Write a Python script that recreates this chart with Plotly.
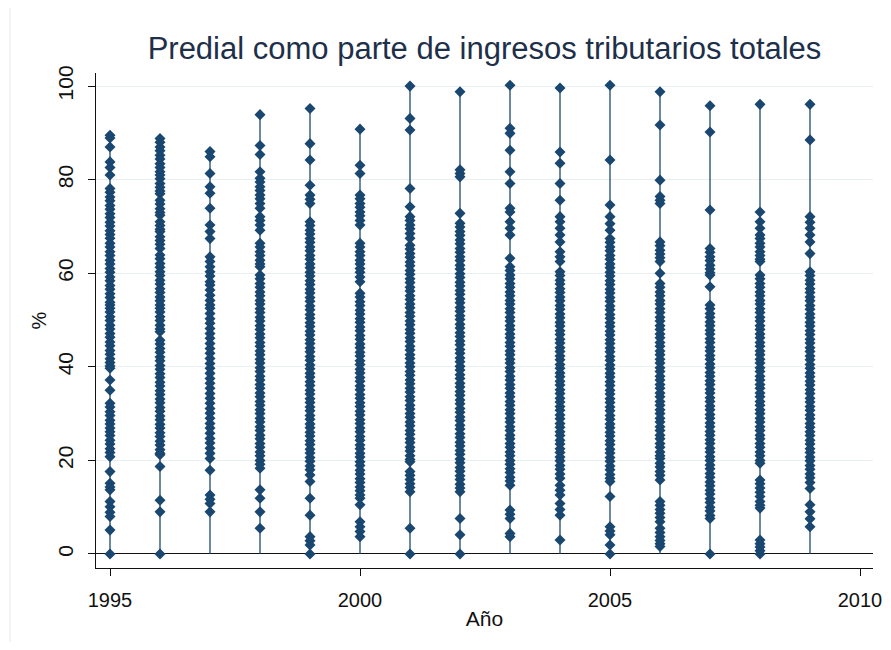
import plotly.graph_objects as go

years = [1995, 1996, 1997, 1998, 1999, 2000, 2001, 2002, 2003, 2004, 2005, 2006, 2007, 2008, 2009]

y1995 = [89.5, 88.9, 87.0, 83.8, 82.6, 81.0,
         78.1, 77.3, 76.3, 75.5, 74.5, 73.7, 72.7, 71.9, 70.9, 70.1, 69.1, 68.3, 67.5,
         66.4, 65.6, 64.6, 63.8, 62.8, 62.0, 61.0, 60.2, 59.2, 58.4, 57.4, 56.6, 55.6,
         54.8, 53.8, 53.2,
         52.5, 51.7, 50.7, 49.9, 48.9, 48.1, 47.1, 46.3, 45.3, 44.5, 43.5, 42.7, 41.7,
         40.9, 40.2, 39.7,
         37.2, 35.0,
         32.2, 31.4, 30.4, 29.6, 28.6, 27.8, 26.9,
         26.1, 25.3, 24.3, 23.5, 22.5, 21.7, 20.8,
         17.6, 15.1, 14.3, 13.7, 11.2, 10.1, 8.9, 8.0, 5.1, 0.0]
y1996 = [88.8, 88.0, 87.0, 86.2, 85.2, 84.4, 83.4, 82.6, 81.7,
         81.0, 80.2, 79.2, 78.4, 77.6, 77.0,
         75.6, 74.8, 73.8, 73.0, 72.4,
         71.0, 70.2, 69.4, 68.9,
         67.8, 67.0, 66.2, 65.3,
         63.9, 63.1, 62.1, 61.3, 60.3, 59.5, 58.5, 57.7, 56.7, 55.9, 54.9, 54.1, 53.2,
         52.5, 51.7, 50.7, 49.9, 48.9, 48.1, 47.5,
         45.7, 44.9, 43.9, 43.1, 42.1, 41.3, 40.3, 39.5, 38.5, 37.7, 36.7, 35.9, 34.9,
         34.1, 33.1, 32.3, 31.3, 30.5, 29.5, 28.7, 27.7, 26.9, 25.9, 25.1, 24.1, 23.3,
         22.3, 21.5, 21.2,
         18.7, 11.5, 9.0, 0.0]
y1997 = [86.0, 84.9, 81.3, 78.5, 77.1, 73.9, 70.3, 68.9, 67.4,
         63.5, 62.5, 61.4, 60.3, 59.4, 58.2,
         57.5, 56.4, 55.3, 54.2, 53.2,
         52.5, 51.4, 50.3, 49.3, 48.2, 47.1, 46.1, 45.0, 43.9, 42.9, 41.8, 40.7, 39.7,
         38.6, 37.5, 36.5, 35.4, 34.3, 33.3, 32.2, 31.1, 30.1, 29.0, 27.9, 26.9, 25.8,
         24.7, 23.7, 22.6, 21.5, 20.4,
         17.9, 12.6, 11.7, 10.8, 9.0]
y1998 = [93.9, 87.3, 85.4, 81.7,
         80.3, 79.5, 78.5, 77.7, 76.7, 75.9, 74.9, 73.9,
         72.1, 71.3, 70.3, 69.2,
         66.4, 65.6, 64.6, 63.8, 62.8, 62.0, 61.4,
         59.6, 58.8, 57.8, 57.0, 56.0, 55.2, 54.2, 53.4, 52.4, 51.6, 50.6, 49.8, 48.8,
         48.0, 47.0, 46.2, 45.2, 44.4, 43.4, 42.6, 41.6, 40.8, 39.8, 39.0, 38.0, 37.2,
         36.2, 35.4, 34.4, 33.6, 32.6, 31.8, 30.8, 30.0, 29.0, 28.2, 27.2, 26.4, 25.4,
         24.6, 23.6, 22.8, 21.8, 21.0, 20.0, 19.2, 18.3,
         13.7, 11.9, 9.0, 5.5]
y1999 = [95.2, 87.7, 84.2, 78.8, 76.7, 75.8, 74.9,
         71.0, 70.2, 69.2, 68.4, 67.4, 66.6, 65.6, 64.8, 63.8, 63.0, 62.0, 61.2, 60.2,
         59.4, 58.4, 57.6, 56.6, 55.8, 54.8, 54.0, 53.0, 52.2, 51.2, 50.4, 49.4, 48.6,
         47.6, 46.8, 45.8, 45.0, 44.0, 43.2, 42.2, 41.4, 40.4, 39.6, 38.6, 37.8, 36.8,
         36.0, 35.0, 34.2, 33.2, 32.4, 31.4, 30.6, 29.6, 28.8, 27.8, 27.0, 26.0, 25.2,
         24.2, 23.4, 22.4, 21.6, 20.6, 19.8, 18.8, 18.0, 16.9,
         15.5, 11.9, 8.3, 3.7, 2.8, 1.9, 0.0]
y2000 = [90.8, 83.1, 81.3,
         76.7, 75.9, 74.9, 74.1, 73.1, 72.3, 71.3, 70.3,
         66.4, 65.6, 64.6, 63.8, 62.8, 62.0, 61.0, 60.2, 59.2, 58.2,
         55.7, 54.9, 53.9, 53.1, 52.1, 51.3, 50.3, 49.5, 48.5, 47.7, 46.7, 45.9, 44.9,
         44.1, 43.1, 42.3, 41.3, 40.5, 39.5, 38.7, 37.7, 36.9, 35.9, 35.1, 34.1, 33.3,
         32.3, 31.5, 30.5, 29.7, 28.7, 27.9, 26.9, 26.1, 25.1, 24.3, 23.3, 22.5, 21.5,
         20.7, 19.7, 18.9, 17.9, 17.1, 16.1, 15.3, 14.3, 13.5, 12.6, 11.9,
         10.5, 6.9, 5.8, 4.8, 3.7]
y2001 = [100.0, 93.1, 90.6, 78.1, 74.2,
         72.1, 71.3, 70.3, 69.5, 68.5, 67.5,
         66.0, 65.2, 64.2, 63.4, 62.4, 61.6, 60.6, 59.8, 58.8, 58.0, 57.0, 56.2, 55.2,
         54.4, 53.4, 52.6, 51.6, 50.8, 49.8, 49.0, 48.0, 47.2, 46.2, 45.4, 44.4, 43.6,
         42.6, 41.8, 40.8, 40.0, 39.0, 38.2, 37.2, 36.4, 35.4, 34.6, 33.6, 32.8, 31.8,
         31.0, 30.0, 29.2, 28.2, 27.4, 26.4, 25.6, 24.6, 23.8, 22.8, 22.0, 21.0, 20.2,
         19.7,
         17.6, 16.8, 15.9, 15.0, 14.2, 13.3, 5.5, 0.0]
y2002 = [98.8, 82.1, 81.3, 80.6, 72.8,
         70.7, 69.9, 68.9, 68.1, 67.1, 66.3, 65.3, 64.5, 63.5, 62.7, 61.7, 60.9, 59.9,
         59.1, 58.1, 57.3, 56.3, 55.5, 54.5, 53.7, 52.7, 51.9, 50.9, 50.1, 49.1, 48.3,
         47.3, 46.5, 45.5, 44.7, 43.7, 42.9, 41.9, 41.1, 40.1, 39.3, 38.3, 37.5, 36.5,
         35.7, 34.7, 33.9, 32.9, 32.1, 31.1, 30.3, 29.3, 28.5, 27.5, 26.7, 25.7, 24.9,
         23.9, 23.1, 22.1, 21.3, 20.3, 19.5, 18.5, 17.7, 16.7, 15.9, 14.9, 14.1, 13.3,
         7.6, 4.1, 0.0]
y2003 = [100.2, 91.0, 89.9, 86.3, 81.7, 79.2, 73.9, 73.1,
         71.0, 69.6, 68.2, 63.2,
         61.4, 60.6, 59.6, 58.8, 57.8, 57.0, 56.0, 55.2, 54.2, 53.4, 52.4, 51.6, 50.6,
         49.8, 48.8, 48.0, 47.0, 46.2, 45.2, 44.4, 43.4, 42.6, 41.6, 40.8, 39.8, 39.0,
         38.0, 37.2, 36.2, 35.4, 34.4, 33.6, 32.6, 31.8, 30.8, 30.0, 29.0, 28.2, 27.2,
         26.4, 25.4, 24.6, 23.6, 22.8, 21.8, 21.0, 20.0, 19.2, 18.2, 17.4, 16.4, 15.6,
         14.7,
         9.4, 8.5, 7.6, 4.4, 3.7]
y2004 = [99.6, 85.9, 83.5, 79.2, 75.6, 72.1, 71.0,
         69.6, 68.2, 66.7, 64.6, 63.5, 62.5,
         60.3, 59.5, 58.5, 57.7, 56.7, 55.9, 54.9, 54.1, 53.1, 52.3, 51.3, 50.5, 49.5,
         48.7, 47.7, 46.9, 45.9, 45.1, 44.1, 43.3, 42.3, 41.5, 40.5, 39.7, 38.7, 37.9,
         36.9, 36.1, 35.1, 34.3, 33.3, 32.5, 31.5, 30.7, 29.7, 28.9, 27.9, 27.1, 26.1,
         25.3, 24.3, 23.5, 22.5, 21.7, 20.7, 19.9, 18.9, 18.1, 17.1, 16.2,
         14.7, 13.6, 12.6, 10.8, 9.5, 8.3, 3.0]
y2005 = [100.2, 84.2, 74.6, 72.1, 70.6, 69.2,
         67.4, 66.6, 65.6, 64.8, 63.8, 63.0, 62.0, 61.2, 60.2, 59.4, 58.4, 57.6, 56.6,
         55.8, 54.8, 54.0, 53.0, 52.2, 51.2, 50.4, 49.4, 48.6, 47.6, 46.8, 45.8, 45.0,
         44.0, 43.2, 42.2, 41.4, 40.4, 39.6, 38.6, 37.8, 36.8, 36.0, 35.0, 34.2, 33.2,
         32.4, 31.4, 30.6, 29.6, 28.8, 27.8, 27.0, 26.0, 25.2, 24.2, 23.4, 22.4, 21.6,
         20.6, 19.8, 18.8, 18.0, 17.0, 16.2, 15.5,
         12.3, 5.8, 4.9, 4.1, 1.9, 0.0]
y2006 = [98.8, 91.7, 79.9, 76.4, 75.6, 74.9,
         66.7, 65.9, 64.9, 64.1, 63.3, 62.5, 60.0,
         57.8, 57.0, 56.0, 55.2, 54.2, 53.4, 52.4, 51.6, 50.6, 49.8, 48.8, 48.0, 47.0,
         46.2, 45.2, 44.4, 43.4, 42.6, 41.6, 40.8, 39.8, 39.0, 38.0, 37.2, 36.2, 35.4,
         34.4, 33.6, 32.6, 31.8, 30.8, 30.0, 29.0, 28.2, 27.2, 26.4, 25.4, 24.6, 23.6,
         22.8, 21.8, 21.0, 20.4,
         19.4, 18.6, 17.6, 16.8, 15.8,
         11.2, 10.4, 9.5, 8.7, 7.8, 6.9, 5.5, 4.6, 3.7, 2.9, 2.2, 1.6]
y2007 = [95.8, 90.2, 73.5,
         65.3, 64.5, 63.5, 62.7, 61.7, 60.9, 60.1, 59.6, 57.1,
         53.2, 52.4, 51.4, 50.6, 49.6, 48.8, 47.8, 47.0, 46.0, 45.2, 44.2, 43.4, 42.4,
         41.6, 40.6, 39.8, 38.8, 38.0, 37.0, 36.2, 35.2, 34.4, 33.4, 32.6, 31.6, 30.8,
         29.8, 29.0, 28.0, 27.2, 26.2, 25.4, 24.4, 23.6, 22.6, 21.8, 20.8, 20.0, 19.0,
         18.2, 17.2, 16.4, 15.4, 14.6, 13.6, 12.8, 11.8, 11.0, 10.0, 9.2, 8.2, 7.6,
         0.0]
y2008 = [96.1, 73.1, 71.0, 69.6,
         68.2, 67.4, 66.4, 65.6, 64.6, 63.8, 63.0, 62.5,
         59.6, 58.8, 57.8, 57.0, 56.0, 55.2, 54.2, 53.4, 52.4, 51.6, 50.6, 49.8, 48.8,
         48.0, 47.0, 46.2, 45.2, 44.4, 43.4, 42.6, 41.6, 40.8, 39.8, 39.0, 38.0, 37.2,
         36.2, 35.4, 34.4, 33.6, 32.6, 31.8, 30.8, 30.0, 29.0, 28.2, 27.2, 26.4, 25.4,
         24.6, 23.6, 22.8, 21.8, 21.0, 20.0, 19.4,
         15.8, 15.0, 14.1, 13.2, 12.3, 11.2, 10.4, 9.8,
         3.0, 2.2, 1.5, 0.7, 0.0]
y2009 = [96.1, 88.5, 72.1, 70.9, 69.6, 68.2, 66.7, 64.2,
         60.3, 59.5, 58.5, 57.7, 56.7, 55.9, 54.9, 54.1, 53.1, 52.3, 51.3, 50.5, 49.5,
         48.7, 47.7, 46.9, 45.9, 45.1, 44.1, 43.3, 42.3, 41.5, 40.5, 39.7, 38.7, 37.9,
         36.9, 36.1, 35.1, 34.3, 33.3, 32.5, 31.5, 30.7, 29.7, 28.9, 27.9, 27.1, 26.1,
         25.3, 24.3, 23.5, 22.5, 21.7, 20.7, 19.9, 18.9, 18.1, 17.1, 16.3, 15.3, 14.0,
         10.5, 9.0, 7.5, 5.8]

series = [y1995, y1996, y1997, y1998, y1999, y2000, y2001, y2002, y2003,
          y2004, y2005, y2006, y2007, y2008, y2009]

x_ticks = [1995, 2000, 2005, 2010]
y_ticks = [0, 20, 40, 60, 80, 100]

title_text = "Predial como parte de ingresos tributarios totales"
x_title = "Año"
y_title = "%"

NAVY = "#1a476f"
FONT = "Arial, 'Liberation Sans', sans-serif"

# spikes (from 0 to each year's values)
sx, sy = [], []
for yr, vals in zip(years, series):
    sx += [yr, yr, None]
    sy += [0, max(vals), None]

px, py = [], []
for yr, vals in zip(years, series):
    px += [yr] * len(vals)
    py += vals

fig = go.Figure()
fig.add_trace(go.Scatter(x=sx, y=sy, mode="lines",
                         line=dict(color=NAVY, width=1.6),
                         opacity=0.8, hoverinfo="skip", showlegend=False))
fig.add_trace(go.Scatter(x=px, y=py, mode="markers",
                         marker=dict(symbol="diamond", size=8.5, color=NAVY,
                                     line=dict(width=0)),
                         showlegend=False))

# the page body has an 8px margin: figure is sized/offset to compensate
W, H = 875, 634
fig.update_layout(
    width=W, height=H,
    margin=dict(l=88, r=10, t=65, b=74, autoexpand=False),
    paper_bgcolor="white", plot_bgcolor="white",
    font=dict(family=FONT, color="#111111"),
    title=dict(text=title_text, x=0.5, xref="paper", xanchor="center",
               y=1 - 40 / H, yref="container", yanchor="middle",
               font=dict(size=31, color="#1e2f4a", family=FONT)),
    xaxis=dict(range=[1994.72, 2010.26], tickvals=x_ticks, automargin=False,
               ticks="outside", ticklen=7, tickwidth=1.3, tickcolor="#111",
               showline=True, linecolor="#111", linewidth=1.3,
               showgrid=False, zeroline=False,
               tickfont=dict(size=20, color="#111"),
               ticklabelstandoff=7,
               title=dict(text=x_title, font=dict(size=21, color="#111"), standoff=1)),
    yaxis=dict(range=[-3, 102.8], tickvals=y_ticks, automargin=False,
               ticks="outside", ticklen=7, tickwidth=1.3, tickcolor="#111",
               showline=True, linecolor="#111", linewidth=1.3,
               showgrid=True, gridcolor="#e8eff1", gridwidth=1,
               zeroline=True, zerolinecolor="#111", zerolinewidth=1.3,
               tickangle=-90, tickfont=dict(size=21, color="#111"),
               ticklabelstandoff=6,
               title=dict(text=y_title, font=dict(size=20, color="#111"), standoff=2)),
    shapes=[dict(type="line", xref="paper", yref="paper",
                 x0=(2 - 88) / 777, x1=(2 - 88) / 777,
                 y0=-74 / 495, y1=(495 + 65) / 495,
                 line=dict(color="#e3eaee", width=1))],
)

fig.write_html("out.html")
